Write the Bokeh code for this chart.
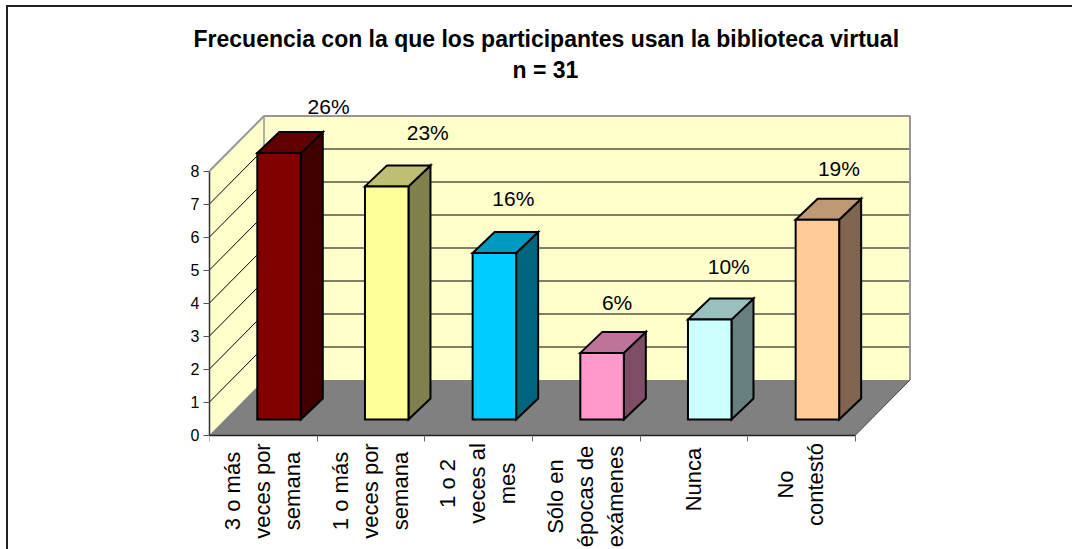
from bokeh.plotting import figure
from bokeh.models import Range1d, LinearAxis, FixedTicker, Title
from bokeh.core.properties import value
from bokeh.embed import file_html
from bokeh.resources import INLINE

# ---- data ----
title_lines = ["Frecuencia con la que los participantes usan la biblioteca virtual", "n = 31"]
category_lines = [
    ["3 o más", "veces por", "semana"],
    ["1 o más", "veces por", "semana"],
    ["1 o 2", "veces al", "mes"],
    ["Sólo en", "épocas de", "exámenes"],
    ["Nunca"],
    ["No", "contestó"],
]
values = [8, 7, 5, 2, 3, 6]
percent_labels = ["26%", "23%", "16%", "6%", "10%", "19%"]
y_ticks = [0, 1, 2, 3, 4, 5, 6, 7, 8]
front_colors = ["#800000", "#FFFF99", "#00CCFF", "#FF99CC", "#CCFFFF", "#FFCC99"]
top_colors = ["#600000", "#BFBF73", "#0099BF", "#BF7399", "#99BFBF", "#BF9973"]
side_colors = ["#400000", "#80804D", "#006680", "#804D66", "#668080", "#806650"]

# ---- layout (pixels) ----
FONT = "Liberation Sans"
UX, UY = 107.67, 33.0            # pixels per category / per value
ORIGIN_X, ORIGIN_Y = 6, 5        # where the figure lands on the page
X0 = 209                         # frame left, value x = 0
FRAME_BOTTOM_PAGE = 549
Y_ZERO = 434.5                   # page row of value 0
FRAME_TOP, FRAME_RIGHT = 96, 915
DEPTH_X, DEPTH_Y = 54.5 / UX, 55 / UY        # depth of the floor
BAR_W = 43.5 / UX
BAR_DX, BAR_DY = 22 / UX, 21 / UY            # depth of a bar
BAR_BASE = 15.5 / UY
BAR_X_OFF = 47.8 / UX
BAR_SCALE = 33.3 / UY
LABEL_DX = [49.5, 41, 19, 15, 19, 21.5]      # label shift from the bar centre
LABEL_DY = [47, 54, 55, 50, 53, 51]          # label lift above the bar top
CAT_LABEL_CY = [490.5, 490.5, 483, 496, 479, 484]
CAT_LINE_GAP = 30
CAT_LABEL_DX = -1

p = figure(width=1072 - ORIGIN_X, height=549 - ORIGIN_Y, output_backend="svg", toolbar_location=None,
           x_range=Range1d(0, (FRAME_RIGHT - X0) / UX),
           y_range=Range1d((Y_ZERO - FRAME_BOTTOM_PAGE) / UY, (Y_ZERO - FRAME_TOP) / UY),
           x_axis_type=None, y_axis_type=None,
           min_border_left=X0 - ORIGIN_X, min_border_right=1072 - FRAME_RIGHT,
           min_border_top=FRAME_TOP - ORIGIN_Y, min_border_bottom=0,
           outline_line_color=None, background_fill_color=None, border_fill_color=None,
           margin=(ORIGIN_Y, 0, 0, ORIGIN_X),
           styles={"box-shadow": "inset 2px 2px 0 #222"})
p.grid.visible = False

n = len(values)
top = max(y_ticks)

# walls and floor
p.patch([0, DEPTH_X, DEPTH_X, 0], [0, DEPTH_Y, top + DEPTH_Y, top], fill_color="#FFFFCC", line_color=None)
p.patch([DEPTH_X, n + DEPTH_X, n + DEPTH_X, DEPTH_X], [DEPTH_Y, DEPTH_Y, top + DEPTH_Y, top + DEPTH_Y],
        fill_color="#FFFFCC", line_color=None)
p.patch([0, n, n + DEPTH_X, DEPTH_X], [0, 0, DEPTH_Y, DEPTH_Y], fill_color="#808080", line_color=None)

# gridlines
grid = [t for t in y_ticks if t > 0]
p.multi_line([[0, DEPTH_X, n + DEPTH_X] for t in grid], [[t, t + DEPTH_Y, t + DEPTH_Y] for t in grid],
             line_color="black", line_width=1)
# wall edges
p.line([0, DEPTH_X, n + DEPTH_X, n + DEPTH_X], [top, top + DEPTH_Y, top + DEPTH_Y, DEPTH_Y],
       line_color="#969696", line_width=2)
p.line([DEPTH_X, DEPTH_X], [DEPTH_Y, top + DEPTH_Y], line_color="#969696", line_width=1.5)
p.line([n, n + DEPTH_X], [0, DEPTH_Y], line_color="#404040", line_width=1)

# bars
lefts = [i + BAR_X_OFF for i in range(n)]
rights = [l + BAR_W for l in lefts]
base = BAR_BASE
tops = [base + v * BAR_SCALE for v in values]
bar_line = dict(line_color="black", line_width=2, line_join="miter")
p.patches([[r, r + BAR_DX, r + BAR_DX, r] for r in rights],
          [[base, base + BAR_DY, t + BAR_DY, t] for t in tops], fill_color=side_colors, **bar_line)
p.patches([[l, r, r + BAR_DX, l + BAR_DX] for l, r in zip(lefts, rights)],
          [[t, t, t + BAR_DY, t + BAR_DY] for t in tops], fill_color=top_colors, **bar_line)
p.quad(left=lefts, right=rights, bottom=base, top=tops, fill_color=front_colors, **bar_line)

# percentage labels
centers = [(l + r) / 2 for l, r in zip(lefts, rights)]
p.text([c + d / UX for c, d in zip(centers, LABEL_DX)],
       [t + d / UY for t, d in zip(tops, LABEL_DY)],
       text=percent_labels, text_font=value(FONT), text_font_size="21px", text_color="black",
       text_align="center", text_baseline="middle")

# rotated category labels, one entry per text line
lx, ly, lt = [], [], []
for i, lines in enumerate(category_lines):
    for j, line in enumerate(lines):
        lx.append(i + 0.5 + ((j - (len(lines) - 1) / 2) * CAT_LINE_GAP + CAT_LABEL_DX) / UX)
        ly.append((Y_ZERO - CAT_LABEL_CY[i]) / UY)
        lt.append(line)
p.text(lx, ly, text=lt, angle=1.5707963, text_font=value(FONT), text_font_size="22px", text_color="black",
       text_align="center", text_baseline="middle")

# axes
yaxis = LinearAxis(ticker=FixedTicker(ticks=y_ticks), bounds=(0, top),
                   major_tick_out=6, major_tick_in=0, minor_tick_out=0, minor_tick_in=0,
                   major_label_text_font=FONT, major_label_text_font_size="16px",
                   major_label_text_color="black", major_label_standoff=4,
                   axis_line_color="#333333", axis_line_width=1.5, major_tick_line_color="#555555")
p.add_layout(yaxis, "left")
xaxis = LinearAxis(ticker=FixedTicker(ticks=list(range(n + 1))), bounds=(0, n), fixed_location=0,
                   major_tick_out=6, major_tick_in=0, minor_tick_out=0, minor_tick_in=0,
                   major_label_overrides={i: "" for i in range(n + 1)}, major_label_standoff=0,
                   axis_line_color="#222222", axis_line_width=1.5, major_tick_line_color="#666666")
p.add_layout(xaxis, "below")

# title
TITLE_SIZE = "23px"
p.title = Title(text=title_lines[0], text_font=FONT, text_font_size=TITLE_SIZE, text_font_style="bold",
                text_color="black", align="left", offset=-16, standoff=-21)
p.add_layout(Title(text=title_lines[1], text_font=FONT, text_font_size=TITLE_SIZE, text_font_style="bold",
                   text_color="black", align="left", offset=303, standoff=27), "above")

open("out.html", "w").write(file_html(p, INLINE))
